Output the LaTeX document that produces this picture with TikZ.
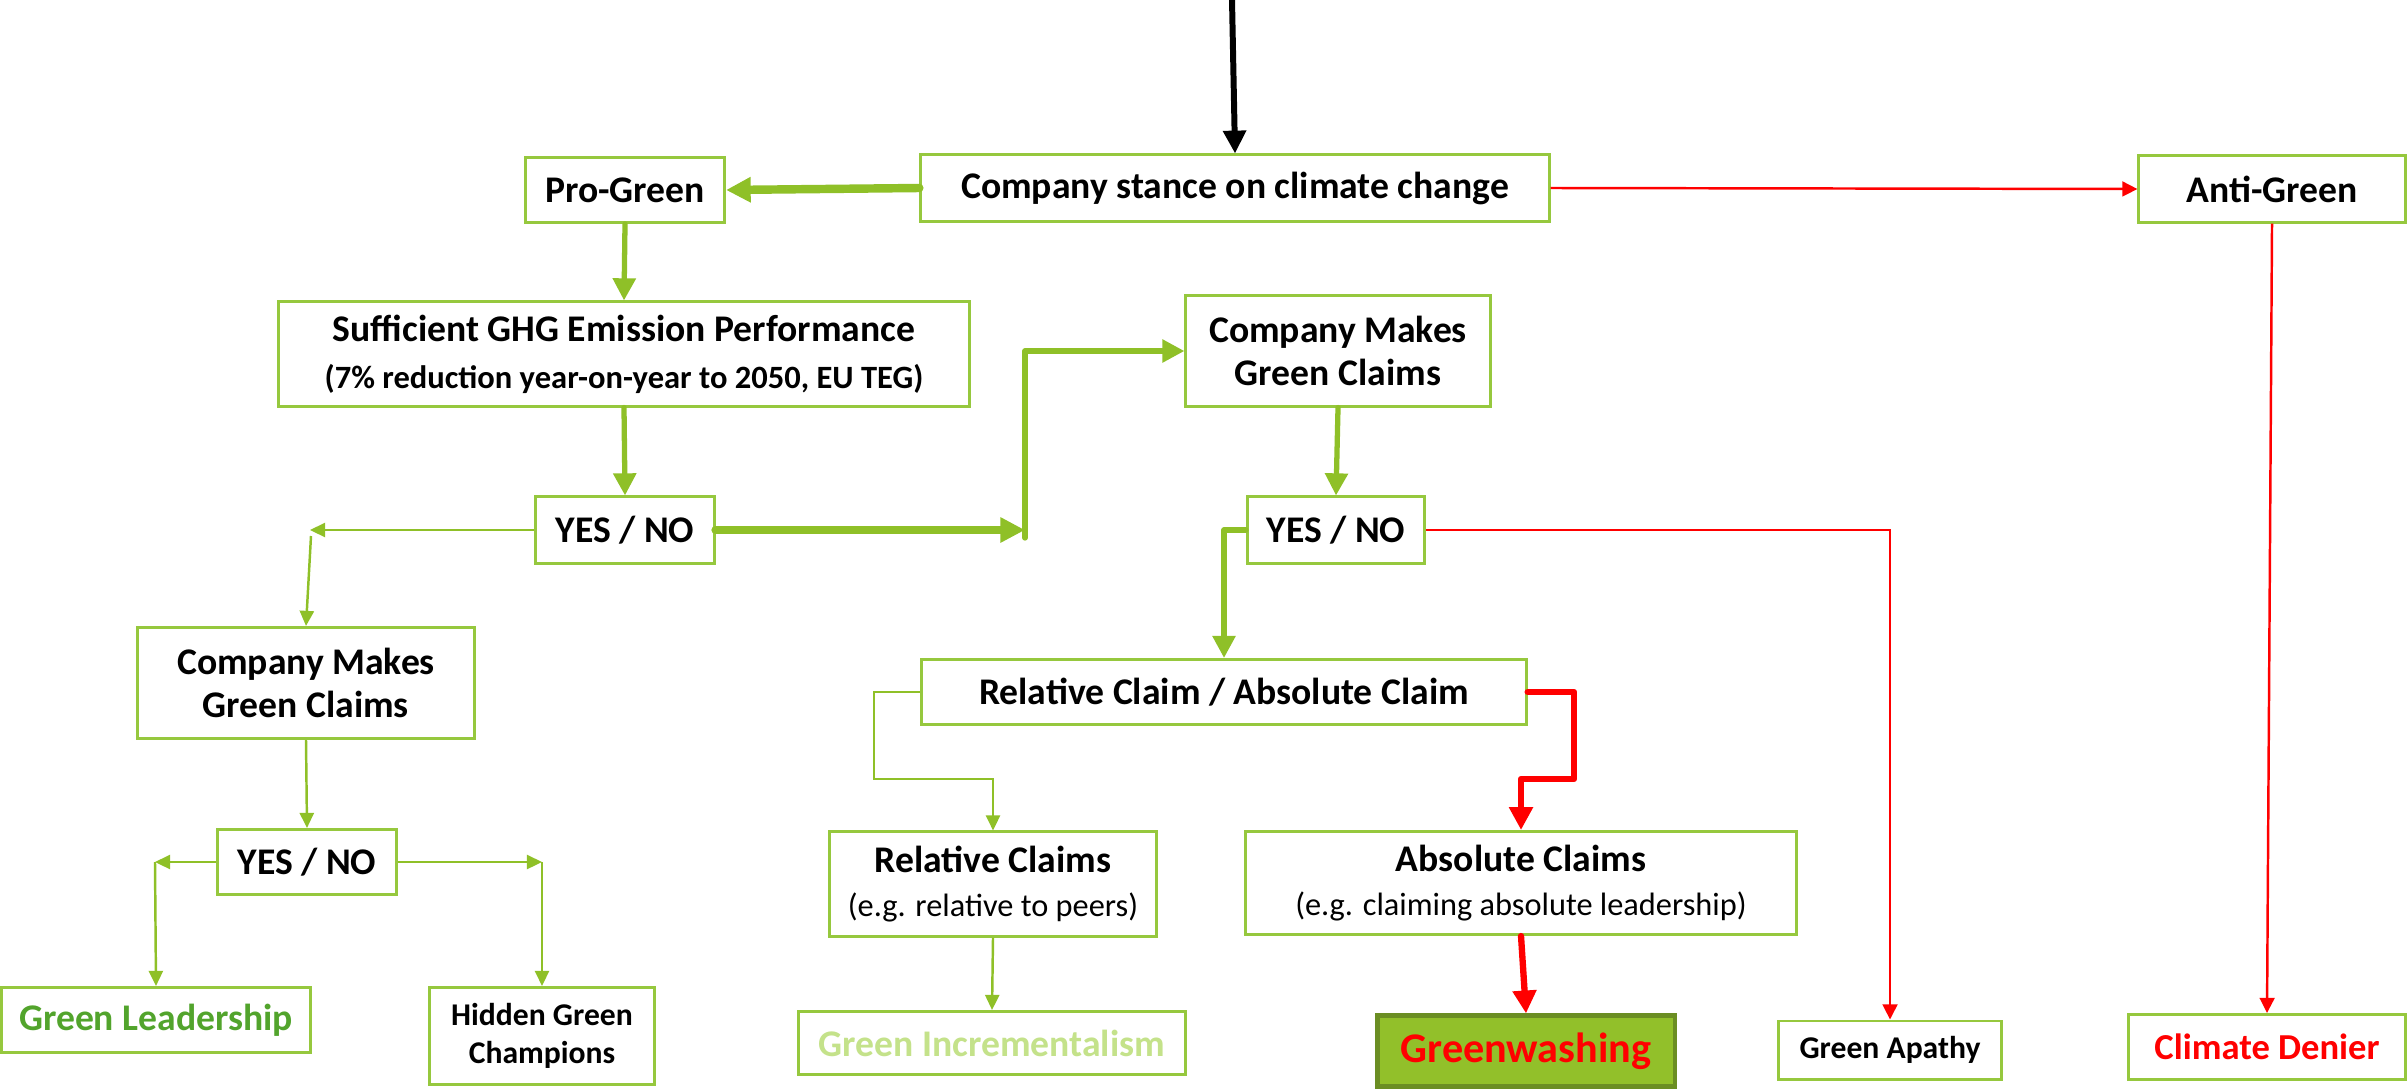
\documentclass[tikz,border=0pt]{standalone}
\usepackage{fontspec}
\setmainfont{Carlito}
\usetikzlibrary{arrows.meta}
\definecolor{boxgreen}{RGB}{150,200,62}
\definecolor{argreen}{RGB}{143,192,40}
\definecolor{gwfill}{RGB}{146,192,42}
\definecolor{gwborder}{RGB}{107,142,35}
\definecolor{leadgreen}{RGB}{82,164,44}
\definecolor{incrgreen}{RGB}{196,226,138}
\definecolor{myred}{RGB}{255,0,0}
\tikzset{
  box/.style={draw=boxgreen, line width=0.85pt, fill=white, inner sep=0pt, align=center,
    font=\fontsize{10.7pt}{12.4pt}\selectfont\bfseries},
  small/.style={font=\fontsize{9pt}{10.6pt}\selectfont\bfseries},
  gthick/.style={draw=argreen, line width=2.4pt, line cap=round, -{Triangle[length=7pt,width=6.8pt]}},
  gmed/.style={draw=argreen, line width=1.5pt, line cap=round, -{Triangle[length=6.3pt,width=6.3pt]}},
  gthin/.style={draw=argreen, line width=0.7pt, -{Triangle[length=4.3pt,width=4pt]}},
  rthick/.style={draw=myred, line width=1.8pt, line cap=round, line join=round, -{Triangle[length=6.5pt,width=6.5pt]}},
  rthin/.style={draw=myred, line width=0.7pt, -{Triangle[length=4.3pt,width=4.2pt]}},
}
\newcommand{\subtxt}[1]{{\mdseries\fontsize{9.2pt}{11pt}\selectfont #1}}
\begin{document}
\begin{tikzpicture}[x=0.01cm, y=-0.01cm]
\useasboundingbox (0,0) rectangle (2407,1088);
% nodes
\node[box, minimum width=6.28cm, minimum height=0.66cm] (stance) at (1235,188) {Company stance on climate change};
\node[box, minimum width=1.99cm, minimum height=0.65cm] (pro) at (625,190) {Pro-Green};
\node[box, minimum width=2.66cm, minimum height=0.66cm] (anti) at (2272,189) {Anti-Green};
\node[box, minimum width=6.91cm, minimum height=1.04cm] (suff) at (624,354) {Sufficient GHG Emission Performance\\[1pt]{\fontsize{9.25pt}{10pt}\selectfont (7\% reduction year-on-year to 2050, EU TEG)}};
\node[box, minimum width=3.04cm, minimum height=1.10cm] (cmgR) at (1338,351) {Company Makes\\Green Claims};
\node[box, minimum width=1.78cm, minimum height=0.66cm] (ynL) at (625,530) {YES / NO};
\node[box, minimum width=1.77cm, minimum height=0.66cm] (ynR) at (1336,530) {YES / NO};
\node[box, minimum width=3.36cm, minimum height=1.11cm] (cmgL) at (306,683) {Company Makes\\Green Claims};
\node[box, minimum width=6.04cm, minimum height=0.65cm] (relabs) at (1224,692) {Relative Claim / Absolute Claim};
\node[box, minimum width=1.78cm, minimum height=0.65cm] (ynBL) at (307,862) {YES / NO};
\node[box, minimum width=3.27cm, minimum height=1.04cm] (relC) at (993,884) {Relative Claims\\\subtxt{(e.g. relative to peers)}};
\node[box, minimum width=5.51cm, minimum height=1.03cm] (absC) at (1521,883) {Absolute Claims\\\subtxt{(e.g. claiming absolute leadership)}};
\node[box, minimum width=3.08cm, minimum height=0.65cm, text=leadgreen] (gl) at (156,1020) {Green Leadership};
\node[box, small, minimum width=2.25cm, minimum height=0.97cm] (hidden) at (542,1036) {Hidden Green\\Champions};
\node[box, minimum width=3.86cm, minimum height=0.63cm, text=incrgreen] (incr) at (992,1043) {Green Incrementalism};
\node[box, draw=gwborder, line width=1.2pt, fill=gwfill, minimum width=2.97cm, minimum height=0.71cm, text=myred, font=\fontsize{12pt}{14pt}\selectfont\bfseries] (gw) at (1526,1051) {Greenwashing};
\node[box, small, minimum width=2.23cm, minimum height=0.58cm] (apathy) at (1890,1050) {Green Apathy};
\node[box, minimum width=2.77cm, minimum height=0.65cm, text=myred, font=\fontsize{10.4pt}{13pt}\selectfont\bfseries] (denier) at (2267,1047) {Climate Denier};
% coordinates
\coordinate (top) at (1232,0);
\coordinate (j1) at (1025,530);
\coordinate (j1b) at (1025,538);
\coordinate (jL) at (310,530);
\coordinate (jLb) at (311,536);
\coordinate (jBL) at (155,862);
\coordinate (jBR) at (542,862);
% connectors
\draw[draw=black, line width=1.7pt, -{Triangle[length=6.5pt,width=6.3pt]}] (top) -- (stance.north);
\draw[gthick] (stance.west) -- (pro.east);
\draw[gmed] (pro.south) -- (suff.north);
\draw[gmed] (suff.south) -- (ynL.north);
\draw[gthick] (ynL.east) -- (j1);
\draw[gmed, line join=round] (j1b) |- (cmgR.west);
\draw[gmed] (cmgR.south) -- (ynR.north);
\draw[gmed, line join=round] (ynR.west) -- (ynR.west -| relabs.north) -- (relabs.north);
\draw[rthin] (ynR.east) -| (apathy.north);
\draw[rthin] (stance.east) -- (anti.west);
\draw[rthin] (anti.south) -- (denier.north);
\draw[gthin] (ynL.west) -- (jL);
\draw[gthin] (jLb) -- (cmgL.north);
\draw[gthin] (cmgL.south) -- (ynBL.north);
\draw[gthin] (ynBL.west) -- (jBL);
\draw[gthin] (jBL) -- (gl.north);
\draw[gthin] (ynBL.east) -- (jBR);
\draw[gthin] (jBR) -- (hidden.north);
\draw[gthin] (relabs.west) -- (874,692) -- (874,779) -- (relC.north |- 0,779) -- (relC.north);
\draw[rthick] (relabs.east) -- (1574,692) -- (1574,779) -- (absC.north |- 0,779) -- (absC.north);
\draw[gthin] (relC.south) -- (incr.north);
\draw[rthick] (absC.south) -- (gw.north);
\end{tikzpicture}
\end{document}
